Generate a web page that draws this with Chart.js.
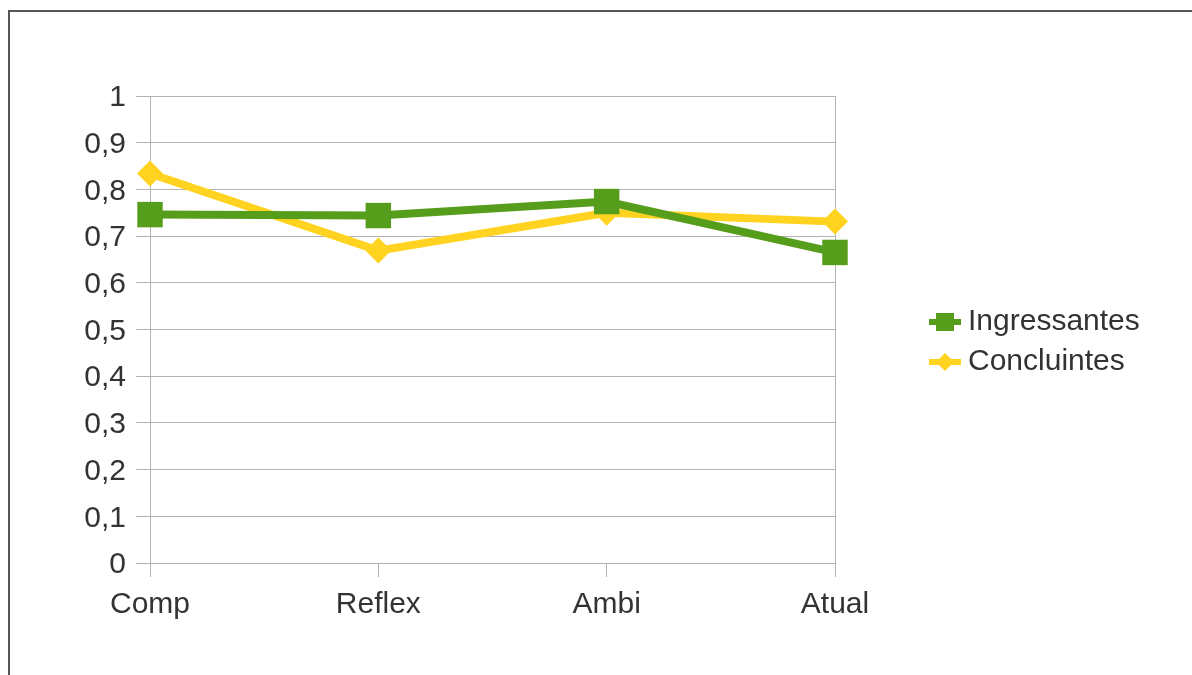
<!DOCTYPE html>
<html>
<head>
<meta charset="utf-8">
<script src="https://cdn.jsdelivr.net/npm/chart.js@4"></script>
<style>
  html, body { margin: 0; padding: 0; background: #fff; overflow: hidden; }
  #frame { position: absolute; left: 8px; top: 10px; width: 1300px; height: 800px;
           border-left: 2px solid #555; border-top: 2px solid #555; }
  #wrap { position: absolute; left: 0; top: 0; width: 1192px; height: 675px; }
</style>
</head>
<body>
<div id="frame"></div>
<div id="wrap"><canvas id="myChart" width="1192" height="675"></canvas></div>
<script>
var categories = ['Comp', 'Reflex', 'Ambi', 'Atual'];
var ingressantes = [0.746, 0.744, 0.774, 0.665];
var concluintes = [0.834, 0.669, 0.750, 0.731];
var yTickLabels = ['0', '0,1', '0,2', '0,3', '0,4', '0,5', '0,6', '0,7', '0,8', '0,9', '1'];

var green = '#579d1c';
var yellow = '#ffd320';
var gridColor = '#b3b3b3';
var textColor = '#333333';
var fontFamily = '"Liberation Sans", Arial, sans-serif';

// little line + marker pictures for the legend
function legendSymbol(color, shape) {
  var c = document.createElement('canvas');
  c.width = 32; c.height = 20;
  var g = c.getContext('2d');
  g.fillStyle = color;
  g.fillRect(0, 7, 32, 6);
  if (shape === 'rect') {
    g.fillRect(7, 1, 18, 18);
  } else {
    g.beginPath();
    g.moveTo(16, 1); g.lineTo(25, 10); g.lineTo(16, 19); g.lineTo(7, 10);
    g.closePath(); g.fill();
  }
  return c;
}
var symbols = [legendSymbol(green, 'rect'), legendSymbol(yellow, 'diamond')];

// legend box keeps a fixed width so the plot ends at the same place,
// then gets moved to where the items sit in the picture
var placeLegend = {
  id: 'placeLegend',
  afterInit: function (chart) {
    var lg = chart.legend;
    var fit = Object.getPrototypeOf(lg).fit;
    lg.fit = function () {
      fit.call(this);
      this.width = 1192 - 835;
    };
  },
  afterLayout: function (chart) {
    chart.legend.left = 927;
    chart.legend.top = 297;
  }
};

var ctx = document.getElementById('myChart').getContext('2d');
var myChart = new Chart(ctx, {
  type: 'line',
  data: {
    labels: categories,
    datasets: [{
      label: 'Ingressantes',
      data: ingressantes,
      borderColor: green,
      backgroundColor: green,
      borderWidth: 8,
      pointStyle: 'rect',
      pointRadius: 18,
      pointHoverRadius: 18,
      pointBorderWidth: 0,
      tension: 0,
      clip: false
    }, {
      label: 'Concluintes',
      data: concluintes,
      borderColor: yellow,
      backgroundColor: yellow,
      borderWidth: 8,
      pointStyle: 'rectRot',
      pointRadius: 13,
      pointHoverRadius: 13,
      pointBorderWidth: 0,
      tension: 0,
      clip: false
    }]
  },
  options: {
    responsive: false,
    animation: false,
    events: [],
    layout: { padding: { top: 96, left: 0, right: 0, bottom: 0 } },
    font: { family: fontFamily, size: 30 },
    color: textColor,
    plugins: {
      tooltip: { enabled: false },
      legend: {
        display: true,
        position: 'right',
        align: 'start',
        labels: {
          color: textColor,
          font: { family: fontFamily, size: 30 },
          usePointStyle: true,
          pointStyleWidth: 16,
          padding: 10,
          generateLabels: function (chart) {
            return chart.data.datasets.map(function (ds, i) {
              return {
                text: ds.label,
                fillStyle: ds.backgroundColor,
                strokeStyle: ds.borderColor,
                lineWidth: 0,
                pointStyle: symbols[i],
                fontColor: textColor,
                datasetIndex: i
              };
            });
          }
        }
      }
    },
    scales: {
      x: {
        afterFit: function (scale) { scale.height = 675 - 563; },
        border: { display: true, color: gridColor, width: 1 },
        grid: {
          drawOnChartArea: true,
          color: function (c) { return c.index === categories.length - 1 ? gridColor : 'rgba(0,0,0,0)'; },
          tickColor: gridColor,
          tickLength: 14,
          lineWidth: 1
        },
        ticks: {
          color: textColor,
          padding: 10,
          maxRotation: 0,
          font: { family: fontFamily, size: 30 }
        }
      },
      y: {
        min: 0,
        max: 1,
        afterFit: function (scale) { scale.width = 150; },
        border: { display: true, color: gridColor, width: 1 },
        grid: { color: gridColor, tickColor: gridColor, tickLength: 14, lineWidth: 1 },
        ticks: {
          stepSize: 0.1,
          color: textColor,
          padding: 10,
          labelOffset: 2,
          font: { family: fontFamily, size: 30 },
          callback: function (value, index) { return yTickLabels[index]; }
        }
      }
    }
  },
  plugins: [placeLegend]
});
</script>
</body>
</html>
